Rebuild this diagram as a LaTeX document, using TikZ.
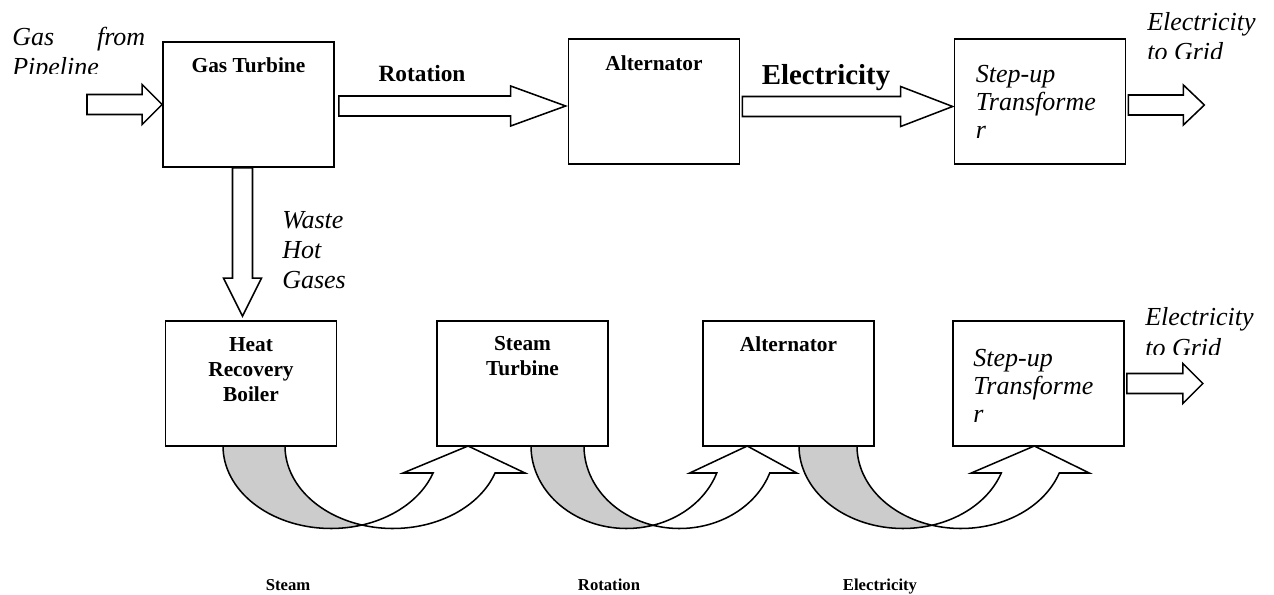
\documentclass[tikz,border=0pt]{standalone}
\usepackage{fontspec}
\setmainfont{Liberation Serif}
\usetikzlibrary{calc}

% block arrow to the right: start, tip, head length (px)
\newcommand\rarrow[3]{%
  \draw[blk] ($#1+(0,-10)$) -- ($#2+(-#3,-10)$) -- ($#2+(-#3,-20)$) -- #2
    -- ($#2+(-#3,20)$) -- ($#2+(-#3,10)$) -- ($#1+(0,10)$) -- cycle;}
% block arrow downwards: start, tip, head length (px)
\newcommand\darrow[3]{%
  \draw[blk] ($#1+(-10,0)$) -- ($#2+(-10,-#3)$) -- ($#2+(-19,-#3)$) -- #2
    -- ($#2+(19,-#3)$) -- ($#2+(10,-#3)$) -- ($#1+(10,0)$) -- cycle;}
% curved up arrow under the boxes: left x, x radius, band, wing
\newcommand\curvedarrow[4]{%
  \pgfmathsetmacro\cvA{#1+#2}
  \pgfmathsetmacro\cvB{#1+#2+#3}
  \pgfmathsetmacro\cvI{acos(#3/2/#2)}
  \pgfmathsetmacro\cvJ{180-\cvI}
  \pgfmathsetmacro\cvIn{\cvA+#2*cos(19.1)}
  \pgfmathsetmacro\cvOut{\cvB+#2*cos(19.1)}
  \pgfmathsetmacro\cvTip{(\cvIn+\cvOut)/2+4}
  \filldraw[blk, fill=black!20]
    plot[domain=180:\cvI] ({\cvA+#2*cos(\x)},{446+82.5*sin(\x)})
    -- plot[domain=\cvJ:180] ({\cvB+#2*cos(\x)},{446+82.5*sin(\x)}) -- cycle;
  \filldraw[blk]
    plot[domain=\cvJ:19.1] ({\cvB+#2*cos(\x)},{446+82.5*sin(\x)})
    -- (\cvOut+#4,473) -- (\cvTip,446) -- (\cvIn-#4,473)
    -- plot[domain=19.1:\cvI] ({\cvA+#2*cos(\x)},{446+82.5*sin(\x)}) -- cycle;}

\begin{document}
\begin{tikzpicture}[x=0.75pt,y=-0.75pt,
    box/.style={draw, line width=1.3pt, minimum width=128.25pt, minimum height=93.75pt, inner sep=0pt},
    blk/.style={draw, fill=white, line width=1.15pt, line join=miter, samples=40},
    title/.style={font=\fontsize{16}{18.75}\selectfont\bfseries, align=center, anchor=base, inner sep=0pt},
    note/.style={font=\fontsize{19.5}{21}\selectfont\itshape, align=left, anchor=base west, inner sep=0pt},
    flowtext/.style={font=\bfseries, anchor=base, inner sep=0pt}]
  \useasboundingbox (0,0) rectangle (1274,595);

  % boxes
  \node[box] (gt) at (248.5,104.5) {};
  \node[box] (alt1) at (654,101.5) {};
  \node[box] (tr1) at (1040,101.5) {};
  \node[box] (hrb) at (251,383.5) {};
  \node[box] (st) at (522.5,383.5) {};
  \node[box] (alt2) at (788.5,383.5) {};
  \node[box] (tr2) at (1038.5,383.5) {};

  % box texts (anchored at the last baseline)
  \node[title] (gt-t) at ($(gt.north)+(0,31)$) {Gas Turbine};
  \node[title] (alt1-t) at ($(alt1.north)+(0,32)$) {Alternator};
  \node[title] (hrb-t) at ($(hrb.north)+(0,81)$) {Heat\\Recovery\\Boiler};
  \node[title] (st-t) at ($(st.north)+(0,55)$) {Steam\\Turbine};
  \node[title] (alt2-t) at ($(alt2.north)+(0,31)$) {Alternator};
  \node[note] (tr1-t) at ($(tr1.north west)+(22,100)$) {Step-up\\Transforme\\r};
  \node[note] (tr2-t) at ($(tr2.north west)+(21,102)$) {Step-up\\Transforme\\r};

  % top row arrows
  \coordinate (in0) at (87,104.5);
  \rarrow{(in0)}{(gt.west)}{20}
  \coordinate (r0) at ($(gt.east)+(4,1.5)$);
  \coordinate (r1) at ($(alt1.west |- r0)+(-2,0)$);
  \rarrow{(r0)}{(r1)}{55}
  \coordinate (e0) at ($(alt1.east)+(2,5)$);
  \coordinate (e1) at ($(tr1.west |- e0)+(-1,0)$);
  \rarrow{(e0)}{(e1)}{52}
  \coordinate (g0) at ($(tr1.east)+(2,3.5)$);
  \coordinate (g1) at ($(g0)+(76,0)$);
  \rarrow{(g0)}{(g1)}{21}

  % waste gases down to the boiler
  \coordinate (w0) at ($(gt.south)+(-6,0)$);
  \coordinate (w1) at ($(w0 |- hrb.north)+(0,-4)$);
  \darrow{(w0)}{(w1)}{38}

  % bottom row
  \coordinate (h0) at ($(tr2.east)+(2,0)$);
  \coordinate (h1) at ($(h0)+(76,0)$);
  \rarrow{(h0)}{(h1)}{20}
  \curvedarrow{223}{108}{62}{30}
  \curvedarrow{531}{95.5}{53}{27}
  \curvedarrow{799}{104}{58}{30}

  % texts
  \begin{scope}
    \clip (0,0) rectangle (160,74);
    \node[note] (gas-l) at (12,75.5) {\makebox[99.75pt][s]{Gas from}\\[1.5pt]Pipeline};
  \end{scope}
  \begin{scope}
    \clip (1130,0) rectangle (1274,59);
    \node[note] (grid1-l) at (1147,61) {Electricity\\[2pt]to Grid};
  \end{scope}
  \begin{scope}
    \clip (1130,290) rectangle (1274,354);
    \node[note] (grid2-l) at (1145,356) {Electricity\\[2pt]to Grid};
  \end{scope}
  \node[note] (waste-l) at (282,289) {Waste\\[1.5pt]Hot\\[1.5pt]Gases};
  \node[flowtext, font=\fontsize{17.5}{20}\selectfont\bfseries] (rot1-l) at (422,82) {Rotation};
  \node[flowtext, font=\fontsize{21.7}{24}\selectfont\bfseries] (elec1-l) at (826,85) {Electricity};
  \node[flowtext, font=\fontsize{12.5}{14}\selectfont\bfseries] (steam-l) at (288,590) {Steam};
  \node[flowtext, font=\fontsize{12.5}{14}\selectfont\bfseries] (rot2-l) at (609,590) {Rotation};
  \node[flowtext, font=\fontsize{12.5}{14}\selectfont\bfseries] (elec2-l) at (880,590) {Electricity};
\end{tikzpicture}
\end{document}
